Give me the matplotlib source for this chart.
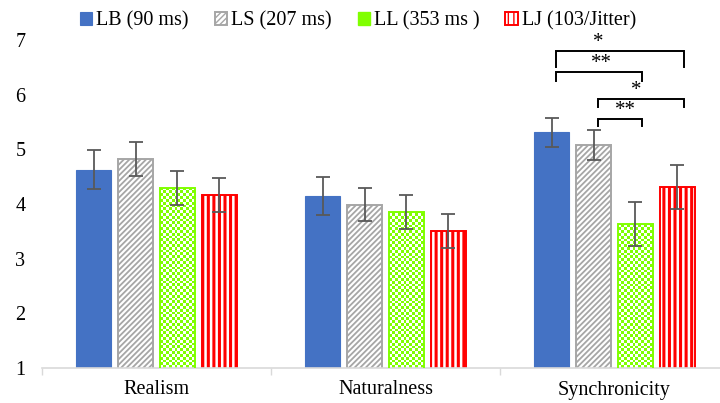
import numpy as np
import matplotlib
matplotlib.use("Agg")
import matplotlib.pyplot as plt
from matplotlib.colors import ListedColormap
from matplotlib.patches import Patch

plt.rcParams['font.family'] = ['Liberation Serif', 'DejaVu Serif']

# data
categories = ['Realism', 'Naturalness', 'Synchronicity']
series_names = ['LB (90 ms)', 'LS (207 ms)', 'LL (353 ms )', 'LJ (103/Jitter)']
lb_mean = [4.63, 4.14, 5.31]
ls_mean = [4.82, 3.99, 5.08]
ll_mean = [4.30, 3.85, 3.63]
lj_mean = [4.17, 3.50, 4.31]
lb_err = [0.35, 0.35, 0.27]
ls_err = [0.31, 0.31, 0.27]
ll_err = [0.31, 0.31, 0.40]
lj_err = [0.31, 0.31, 0.41]
yticks = [1, 2, 3, 4, 5, 6, 7]

# significance (third category): bar i, bar j, label
sig_pairs = [(0, 3, '*'), (0, 2, '**'), (1, 3, '*'), (1, 2, '**')]

means = [lb_mean, ls_mean, ll_mean, lj_mean]
errs = [lb_err, ls_err, ll_err, lj_err]

fig = plt.figure(figsize=(7.2, 4.03), dpi=100)
ax = fig.add_axes([42/720, 35/403, 687/720, 328/403])

x = np.arange(len(categories))
step = 0.183
width = 0.152
offsets = (np.arange(4) - 1.5) * step

blue = '#4472C4'
gray = '#A6A6A6'
green = '#80FF00'
red = '#FF0000'
errc = '#595959'

# LB solid blue
lb_bars = ax.bar(x + offsets[0], lb_mean, width, color=blue, edgecolor=blue,
                 linewidth=0.8, zorder=2)
# LS grey diagonal hatch
ls_bars = ax.bar(x + offsets[1], ls_mean, width, facecolor='white', edgecolor=gray,
                 hatch='//////', linewidth=1.4, zorder=2)
for b in ls_bars:
    if hasattr(b, 'set_hatch_linewidth'):
        b.set_hatch_linewidth(1.3)
# LL green checkerboard (texture via clipped image)
ll_bars = ax.bar(x + offsets[2], ll_mean, width, facecolor='none', edgecolor=green,
                 linewidth=1.4, zorder=3)
checker = ListedColormap(['white', green])
cell_h = 2.8 / 54.5
for b in ll_bars:
    x0 = b.get_x()
    h = b.get_height()
    ny = int(np.ceil((h - 1) / cell_h))
    nx = 12
    jj, ii = np.meshgrid(np.arange(nx), np.arange(ny))
    tex = (ii + jj) % 2
    im = ax.imshow(tex, cmap=checker, extent=(x0, x0 + width, 1, 1 + ny * cell_h),
                   origin='lower', interpolation='nearest', aspect='auto', zorder=2)
    im.set_clip_path(b)
# LJ red vertical stripes
lj_bars = ax.bar(x + offsets[3], lj_mean, width, facecolor='white', edgecolor=red,
                 hatch='|||', linewidth=1.4, zorder=2)
for b in lj_bars:
    if hasattr(b, 'set_hatch_linewidth'):
        b.set_hatch_linewidth(2.2)

for k in range(4):
    ax.errorbar(x + offsets[k], means[k], yerr=errs[k], fmt='none', ecolor=errc,
                elinewidth=1.3, capsize=5, capthick=1.3, zorder=4)

# significance brackets on Synchronicity
levels = [(6.80, 0.30, 598), (6.41, 0.16, 601), (5.92, 0.15, 636), (5.55, 0.13, 625)]
sx = 2 + offsets
for (i, j, lab), (top, leg, tx) in zip(sig_pairs, levels):
    xl = sx[i] + 0.02
    xr = sx[j] + 0.03
    ax.plot([xl, xl, xr, xr], [top - leg, top, top, top - leg], color='black',
            lw=1.4, solid_joinstyle='miter', zorder=5, clip_on=False)
    txd = -0.5 + (tx - 42) / 229
    ax.text(txd, top - 0.02, lab, ha='center', va='bottom', fontsize=15, zorder=5)

ax.set_xlim(-0.5, 2.5)
ax.set_ylim(1, 7)
ax.set_yticks(yticks)
ax.set_xticks(x)
ax.set_xticklabels(categories)
ax.set_xticks([-0.5, 0.5, 1.5, 2.5], minor=True)
ax.tick_params(axis='x', which='major', length=0, labelsize=14.5, pad=9)
ax.tick_params(axis='x', which='minor', length=5, width=1, color='#D9D9D9', direction='out')
ax.tick_params(axis='y', length=0, labelsize=14.5, pad=12)
for s in ['left', 'right', 'top']:
    ax.spines[s].set_visible(False)
ax.spines['bottom'].set_color('#D9D9D9')
ax.spines['bottom'].set_linewidth(1.2)

ll_handle = Patch(facecolor=green, edgecolor=green, hatch='++', linewidth=1.0)
fig.legend(handles=[lb_bars[0], ls_bars[0], ll_handle, lj_bars[0]],
           labels=series_names, loc='center', bbox_to_anchor=(0.497, 0.948),
           ncol=4, frameon=False, fontsize=14.5, handlelength=0.6, handleheight=0.6,
           handletextpad=0.2, columnspacing=1.3)

fig.savefig('out.png', dpi=100)
